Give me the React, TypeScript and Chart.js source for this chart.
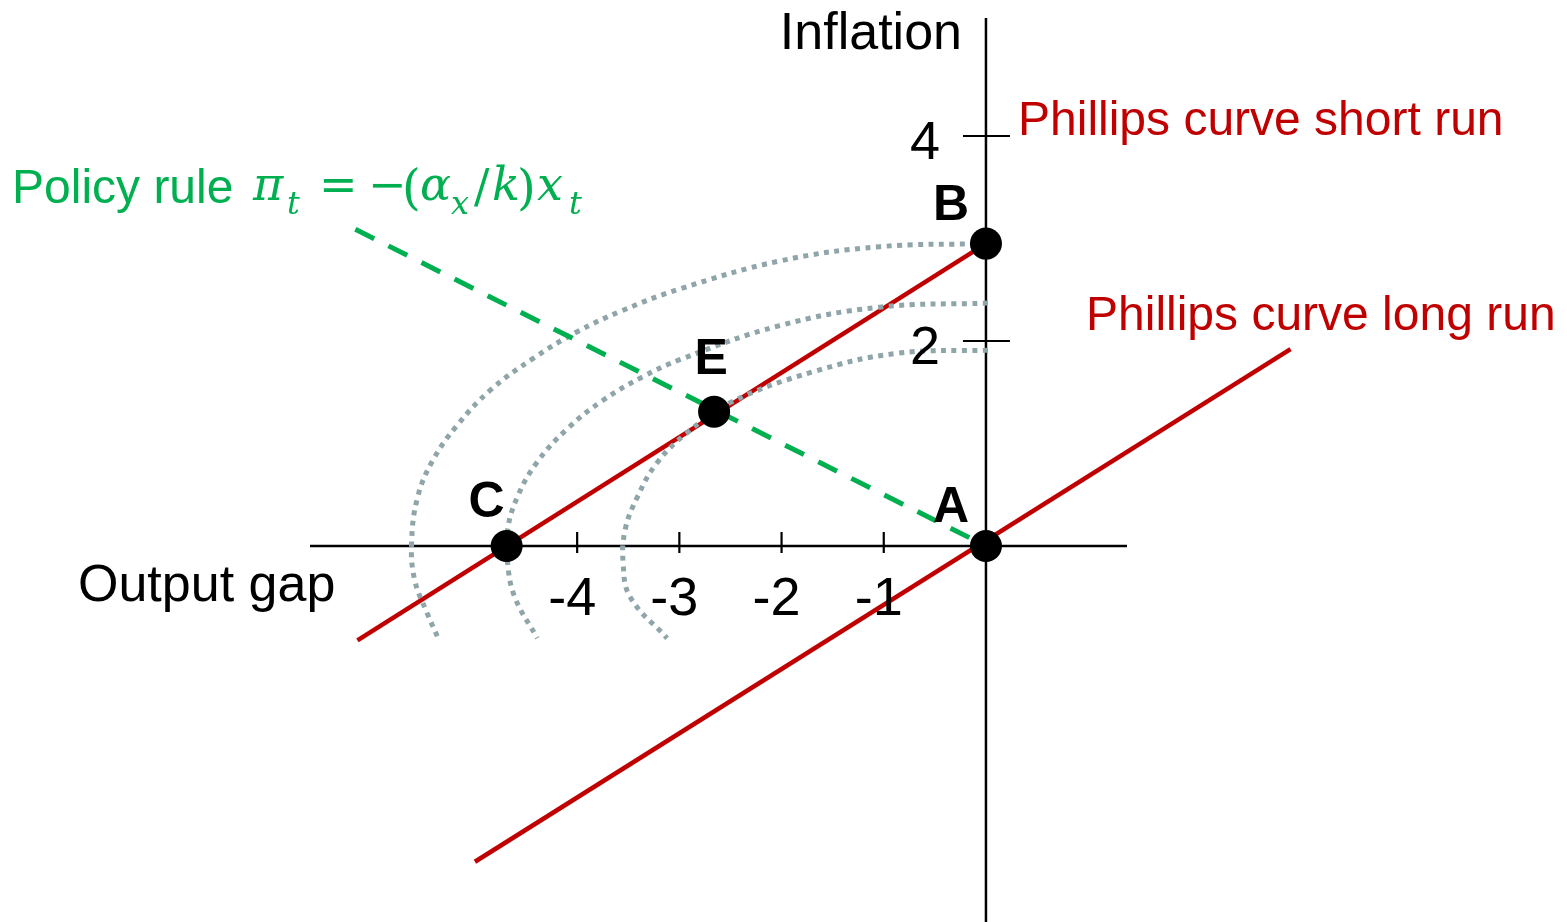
import React, { useEffect, useRef } from "react";
import { Chart, registerables } from "chart.js";

Chart.register(...registerables);

// ---- axis ranges / ticks ----
const xRange = [-6.614, 1.38];
const yRange = [-3.668, 5.151];
const xTicks = [-4, -3, -2, -1];
const xTickLabels = ["-4", "-3", "-2", "-1"];
const yTicks = [2, 4];
const yTickLabels = ["2", "4"];

// ---- points ----
const pointNames = ["A", "B", "C", "E"];
const pointX = [0, 0, -4.69, -2.66];
const pointY = [0, 2.95, 0, 1.31];

// ---- lines ----
const shortRunX = [-6.15, 0];
const shortRunY = [-0.92, 2.95];
const longRunX = [-5.0, 2.98];
const longRunY = [-3.08, 1.92];
const policyX = [-6.17, 0];
const policyY = [3.09, 0];

// ---- loss curves ----
const outerX = [0, -1.04, -2.02, -2.99, -3.55, -4.0, -4.43, -4.85, -5.18, -5.41, -5.56, -5.62, -5.59, -5.47, -5.36];
const outerY = [2.95, 2.92, 2.78, 2.51, 2.3, 2.09, 1.83, 1.52, 1.17, 0.84, 0.48, 0.03, -0.33, -0.65, -0.9];
const middleX = [0.02, -1.04, -2.02, -2.99, -3.36, -3.75, -4.1, -4.39, -4.58, -4.68, -4.68, -4.61, -4.39];
const middleY = [2.37, 2.33, 2.15, 1.82, 1.65, 1.42, 1.14, 0.82, 0.49, 0.16, -0.17, -0.5, -0.9];
const innerX = [0.02, -0.87, -1.69, -2.5, -2.93, -3.22, -3.41, -3.53, -3.55, -3.48, -3.12];
const innerY = [1.91, 1.88, 1.7, 1.4, 1.1, 0.81, 0.48, 0.16, -0.17, -0.5, -0.9];

const RED = "#C00000";
const GREEN = "#00B050";
const GREY = "#8FA5A9";
const SANS = '"Liberation Sans", Arial, sans-serif';
const SERIF = '"DejaVu Serif", "Liberation Serif", serif';

const zip = (xs: number[], ys: number[]) => xs.map((x, i) => ({ x, y: ys[i] }));

// label offsets (px) relative to each point: [dx(center), dy(baseline)]
const labelOffsets: Record<string, [number, number]> = {
  A: [-35, -24],
  B: [-35, -24],
  C: [-20, -29],
  E: [-3, -38],
};

const annotPlugin = {
  id: "annot",
  beforeDatasetsDraw(chart: any) {
    const { ctx, chartArea, scales } = chart;
    const xs = scales.x;
    const ys = scales.y;
    const x0 = xs.getPixelForValue(0);
    const y0 = ys.getPixelForValue(0);
    ctx.save();
    ctx.strokeStyle = "#000";
    ctx.lineWidth = 2.5;
    ctx.beginPath();
    ctx.moveTo(chartArea.left, y0);
    ctx.lineTo(chartArea.right, y0);
    ctx.moveTo(x0, chartArea.top);
    ctx.lineTo(x0, chartArea.bottom);
    ctx.stroke();
    ctx.lineWidth = 2.2;
    ctx.beginPath();
    xTicks.forEach((t) => {
      const px = xs.getPixelForValue(t);
      ctx.moveTo(px, y0 - 14);
      ctx.lineTo(px, y0 + 7);
    });
    yTicks.forEach((t) => {
      const py = ys.getPixelForValue(t);
      ctx.moveTo(x0 - 23, py);
      ctx.lineTo(x0 + 24, py);
    });
    ctx.stroke();
    ctx.restore();
  },
  afterDatasetsDraw(chart: any) {
    const { ctx, scales } = chart;
    const xs = scales.x;
    const ys = scales.y;
    const x0 = xs.getPixelForValue(0);
    const y0 = ys.getPixelForValue(0);
    ctx.save();
    ctx.textBaseline = "alphabetic";
    // tick labels
    ctx.fillStyle = "#000";
    ctx.font = `54px ${SANS}`;
    ctx.textAlign = "center";
    xTicks.forEach((t, i) => {
      ctx.fillText(xTickLabels[i], xs.getPixelForValue(t) - 5, y0 + 69);
    });
    ctx.textAlign = "right";
    yTicks.forEach((t, i) => {
      ctx.fillText(yTickLabels[i], x0 - 46, ys.getPixelForValue(t) + 23);
    });
    // point labels
    ctx.font = `bold 50px ${SANS}`;
    ctx.textAlign = "center";
    pointNames.forEach((n, i) => {
      const [dx, dy] = labelOffsets[n];
      ctx.fillText(n, xs.getPixelForValue(pointX[i]) + dx, ys.getPixelForValue(pointY[i]) + dy);
    });
    // axis titles
    ctx.font = `52px ${SANS}`;
    ctx.textAlign = "right";
    ctx.fillText("Inflation", 962, 49);
    ctx.textAlign = "left";
    ctx.fillText("Output gap", 78, 601);
    // curve labels
    ctx.font = `48px ${SANS}`;
    ctx.fillStyle = RED;
    ctx.fillText("Phillips curve short run", 1018, 135);
    ctx.fillText("Phillips curve long run", 1086, 330);
    ctx.fillStyle = GREEN;
    ctx.fillText("Policy rule", 12, 203);
    // formula  π_t = −(α_x/k)x_t
    const base = 200;
    const sub = 214;
    const pieces: [string, number, string, number][] = [
      ["π", 253, `italic 46px ${SERIF}`, base],
      ["t", 287, `italic 32px ${SERIF}`, sub],
      ["=", 319, `46px ${SERIF}`, base],
      ["−", 368, `46px ${SERIF}`, base],
      ["(", 402, `48px ${SERIF}`, base + 4],
      ["α", 420, `italic 46px ${SERIF}`, base],
      ["x", 451, `italic 32px ${SERIF}`, sub],
      ["/", 474, `46px ${SERIF}`, base + 2],
      ["k", 492, `italic 46px ${SERIF}`, base],
      [")", 517, `48px ${SERIF}`, base + 4],
      ["x", 537, `italic 46px ${SERIF}`, base],
      ["t", 569, `italic 32px ${SERIF}`, sub],
    ];
    pieces.forEach(([t, x, f, b]) => {
      ctx.font = f;
      ctx.fillText(t, x, b);
    });
    ctx.restore();
  },
};

export default function App() {
  const ref = useRef<HTMLCanvasElement | null>(null);
  useEffect(() => {
    document.body.style.margin = "0";
    if (!ref.current) return;
    const lineDs = (data: any[], color: string, width: number, dash: number[], tension = 0) => ({
      type: "line" as const,
      data,
      borderColor: color,
      borderWidth: width,
      borderDash: dash,
      borderCapStyle: "butt" as const,
      pointRadius: 0,
      showLine: true,
      fill: false,
      tension,
      clip: false as any,
    });
    const chart = new Chart(ref.current, {
      type: "scatter",
      data: {
        datasets: [
          {
            type: "scatter",
            data: zip(pointX, pointY),
            pointRadius: 16,
            pointHoverRadius: 16,
            backgroundColor: "#000",
            borderColor: "#000",
            borderWidth: 0,
            clip: false as any,
          },
          lineDs(zip(policyX, policyY), GREEN, 5, [21, 16]),
          lineDs(zip(outerX, outerY), GREY, 5, [5, 5.5], 0.4),
          lineDs(zip(middleX, middleY), GREY, 5, [5, 5.5], 0.4),
          lineDs(zip(innerX, innerY), GREY, 5, [5, 5.5], 0.4),
          lineDs(zip(shortRunX, shortRunY), RED, 4.5, []),
          lineDs(zip(longRunX, longRunY), RED, 4.5, []),
        ] as any,
      },
      options: {
        responsive: false,
        animation: false,
        devicePixelRatio: 1,
        events: [],
        layout: { autoPadding: false, padding: { left: 310, right: 440, top: 18, bottom: 0 } },
        scales: {
          x: { type: "linear", min: xRange[0], max: xRange[1], display: false },
          y: { type: "linear", min: yRange[0], max: yRange[1], display: false },
        },
        plugins: { legend: { display: false }, tooltip: { enabled: false } },
      },
      plugins: [annotPlugin],
    });
    return () => chart.destroy();
  }, []);
  return (
    <div style={{ width: 1567, height: 922 }}>
      <canvas ref={ref} width={1567} height={922} style={{ display: "block" }} />
    </div>
  );
}
